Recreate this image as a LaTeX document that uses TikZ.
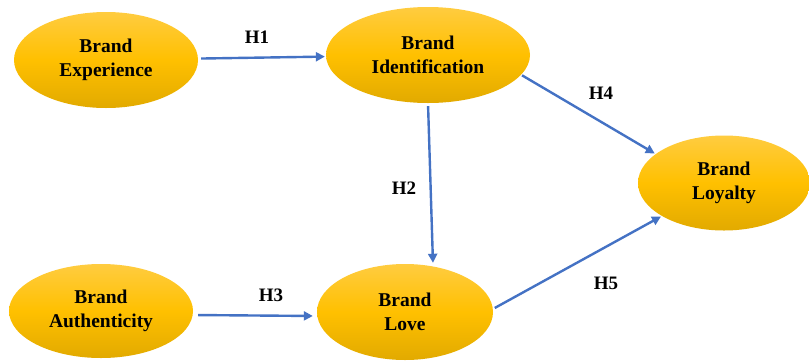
\documentclass[tikz,border=0pt]{standalone}
\usepackage{fontspec}
\setmainfont{Liberation Serif}
\usetikzlibrary{shapes.geometric,arrows.meta}
\definecolor{goldtop}{HTML}{FFCC40}
\definecolor{goldmid}{HTML}{FFC000}
\definecolor{goldbot}{HTML}{E2AA00}
\definecolor{linkblue}{HTML}{4472C4}
\begin{document}
\begin{tikzpicture}[x=1pt,y=-1pt,
  construct/.style={ellipse, inner sep=0pt, align=center,
    top color=goldtop, bottom color=goldbot, middle color=goldmid,
    font=\bfseries\fontsize{19.5}{24}\selectfont},
  link/.style={draw=linkblue, line width=2.4pt, -{Triangle[length=9pt,width=9pt]}},
  hlab/.style={font=\bfseries\fontsize{19}{22}\selectfont, inner sep=0pt}]
\useasboundingbox (0,0) rectangle (809,360);
\node[construct, minimum width=184pt, minimum height=96pt] (exp) at (106,60) {Brand\\Experience};
\node[construct, minimum width=204pt, minimum height=96pt] (iden) at (428,55) {Brand\\Identification};
\node[construct, minimum width=172pt, minimum height=95pt] (loyal) at (724,183) {Brand\\Loyalty};
\node[construct, minimum width=184pt, minimum height=94pt] (auth) at (101,311) {Brand\\Authenticity};
\node[construct, minimum width=176pt, minimum height=96pt] (love) at (405,312) {Brand\\Love};
\draw[link, shorten <=3pt, shorten >=1pt] (exp) -- (iden);
\draw[link, shorten <=3pt, shorten >=1pt] ([xshift=0pt]iden.south) -- ([xshift=28pt]love.north);
\draw[link, shorten <=5pt, shorten >=4pt] ([yshift=-4pt]auth.east) -- ([yshift=-4pt]love.west);
\draw[link, shorten <=1pt, shorten >=1pt] (iden.-12) -- (loyal.157);
\draw[link, shorten <=2pt, shorten >=1pt] (love.2) -- (loyal.208);
\node[hlab] (h1) at (257,37) {H1};
\node[hlab] (h2) at (404,188) {H2};
\node[hlab] (h3) at (271,295) {H3};
\node[hlab] (h4) at (601,93) {H4};
\node[hlab] (h5) at (606,283) {H5};
\end{tikzpicture}
\end{document}
